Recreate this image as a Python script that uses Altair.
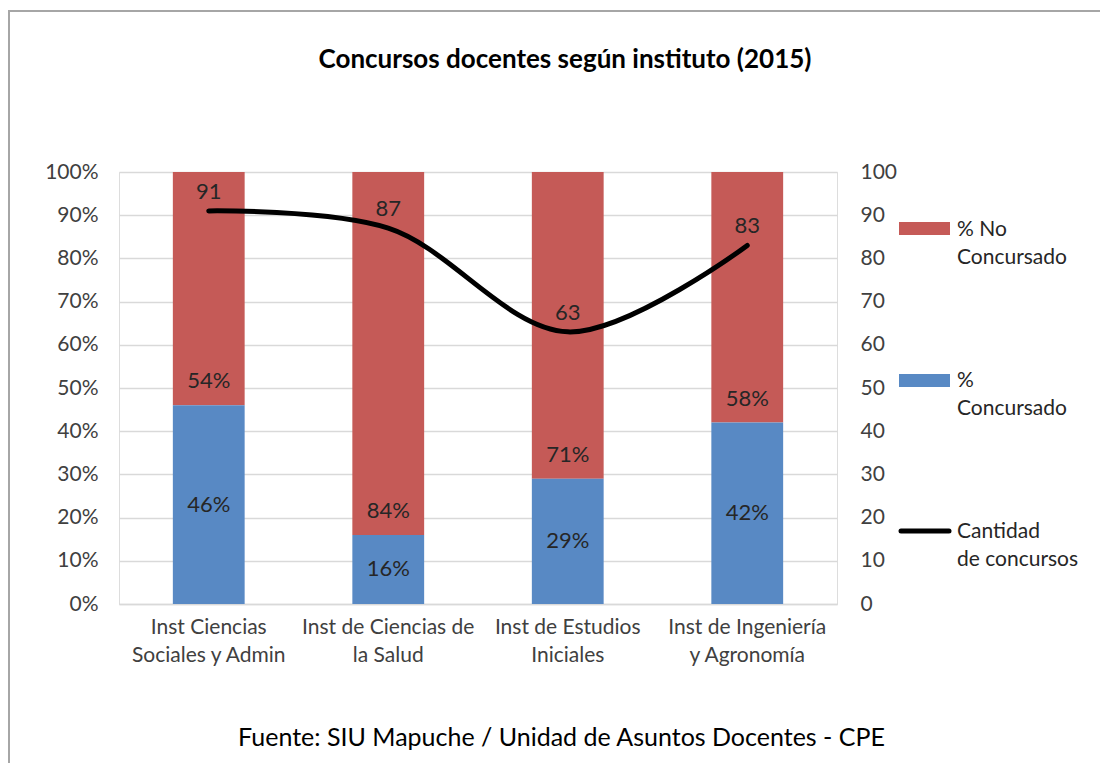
import altair as alt
import pandas as pd

# ---- data ----
categories = [
    "Inst Ciencias\nSociales y Admin",
    "Inst de Ciencias de\nla Salud",
    "Inst de Estudios\nIniciales",
    "Inst de Ingeniería\ny Agronomía",
]
pct_concursado = [46, 16, 29, 42]
pct_no_concursado = [54, 84, 71, 58]
cantidad_concursos = [91, 87, 63, 83]

legend_labels = ["% No\nConcursado", "%\nConcursado", "Cantidad\nde concursos"]
title_text = "Concursos docentes según instituto (2015)"
source_text = "Fuente: SIU Mapuche / Unidad de Asuntos Docentes - CPE"

RED = "#c55a57"
BLUE = "#5889c4"
FONT = "Lato"
TXT = "#262626"

df = pd.DataFrame({
    "inst": categories,
    "conc": pct_concursado,
    "noconc": pct_no_concursado,
    "cant": cantidad_concursos,
})

W, H = 718, 432

x_enc = alt.X(
    "inst:N", sort=categories,
    scale=alt.Scale(paddingInner=0.6, paddingOuter=0.3),
    axis=alt.Axis(
        title=source_text,
        titleFont=FONT, titleFontSize=25, titleFontWeight="normal", titleColor="#000000",
        titleX=442, titleY=141, titleBaseline="alphabetic", titleAlign="center", titleAnchor="start",
        labelExpr="split(datum.label, '\\n')",
        labelFont=FONT, labelFontSize=21, labelColor="#404040", labelLineHeight=28,
        labelPadding=12, labelBaseline="top", labelAngle=0,
        ticks=False, domain=True, domainColor="#d9d9d9", domainWidth=1.5,
    ),
)

y_left_scale = alt.Scale(domain=[0, 100], nice=False)
y_left_axis = alt.Axis(
    title=None, values=list(range(0, 101, 10)), labelExpr="datum.value + '%'",
    labelFont=FONT, labelFontSize=21, labelColor="#404040", labelPadding=21,
    ticks=False, domain=False, grid=True, gridColor="#d9d9d9", gridWidth=1.5,
)

base = alt.Chart(df)

blue_bars = base.mark_bar(color=BLUE).encode(
    x=x_enc,
    y=alt.Y("conc:Q", scale=y_left_scale, axis=y_left_axis),
)

red_bars = base.transform_calculate(total="datum.conc + datum.noconc").mark_bar(color=RED).encode(
    x=x_enc,
    y=alt.Y("conc:Q", scale=y_left_scale, axis=y_left_axis),
    y2="total:Q",
)

blue_labels = base.transform_calculate(
    mid="datum.conc / 2", lab="datum.conc + '%'"
).mark_text(font=FONT, fontSize=22, color=TXT, baseline="middle").encode(
    x=x_enc,
    y=alt.Y("mid:Q", scale=y_left_scale, axis=y_left_axis),
    text="lab:N",
)

red_labels = base.transform_calculate(
    lab="datum.noconc + '%'"
).mark_text(font=FONT, fontSize=22, color=TXT, baseline="middle", dy=-24).encode(
    x=x_enc,
    y=alt.Y("conc:Q", scale=y_left_scale, axis=y_left_axis),
    text="lab:N",
)

bars = alt.layer(red_bars, blue_bars, blue_labels, red_labels)

y_right = alt.Y(
    "cant:Q", scale=alt.Scale(domain=[0, 100], nice=False),
    axis=alt.Axis(
        orient="right", title=None, values=list(range(0, 101, 10)),
        labelFont=FONT, labelFontSize=21, labelColor="#404040", labelPadding=23,
        ticks=False, domain=False, grid=False,
    ),
)

line = base.mark_line(color="#000000", strokeWidth=5, interpolate="catmull-rom", strokeCap="round").encode(
    x=x_enc, y=y_right,
)
line_labels = base.mark_text(font=FONT, fontSize=22, color=TXT, baseline="middle", dy=-19).encode(
    x=x_enc, y=y_right, text="cant:Q",
)
line_layer = alt.layer(line, line_labels)

# ---- legend (drawn) ----
def one(txt):
    return alt.Chart(pd.DataFrame({"label": [txt]}))

leg_red = one(legend_labels[0]).mark_rect(color=RED).encode(
    x=alt.value(780), x2=alt.value(831), y=alt.value(50), y2=alt.value(63))
leg_blue = one(legend_labels[1]).mark_rect(color=BLUE).encode(
    x=alt.value(780), x2=alt.value(831), y=alt.value(202), y2=alt.value(215))
leg_line = one(legend_labels[2]).mark_rule(color="#000000", strokeWidth=5, strokeCap="round").encode(
    x=alt.value(782), x2=alt.value(830), y=alt.value(359))

def leg_text(i, yb):
    return one(legend_labels[i]).mark_text(
        font=FONT, fontSize=21, color=TXT, align="left", baseline="alphabetic",
        lineBreak="\n", lineHeight=28,
    ).encode(x=alt.value(838), y=alt.value(yb), text="label:N")

legend = alt.layer(leg_red, leg_blue, leg_line, leg_text(0, 64), leg_text(1, 215), leg_text(2, 366))

# ---- title and frame ----
title = one(title_text).mark_text(
    font=FONT, fontSize=26, fontWeight="bold", color="#000000",
    align="center", baseline="alphabetic",
).encode(x=alt.value(446), y=alt.value(-104), text="label:N")

frame_top = one("").mark_rule(color="#a6a6a6", strokeWidth=2).encode(
    x=alt.value(-111), x2=alt.value(990), y=alt.value(-161))
frame_left = one("").mark_rule(color="#a6a6a6", strokeWidth=2).encode(
    x=alt.value(-110), y=alt.value(-161), y2=alt.value(600))

chart = alt.layer(bars, line_layer, legend, title, frame_top, frame_left).resolve_scale(
    y="independent"
).properties(
    width=W, height=H,
    autosize=alt.AutoSizeParams(type="none"),
    padding={"left": 111, "top": 164, "right": 263, "bottom": 159},
).configure_view(stroke=None).configure(background="white")

chart.save("out.html", embed_options={"renderer": "svg", "actions": False})
